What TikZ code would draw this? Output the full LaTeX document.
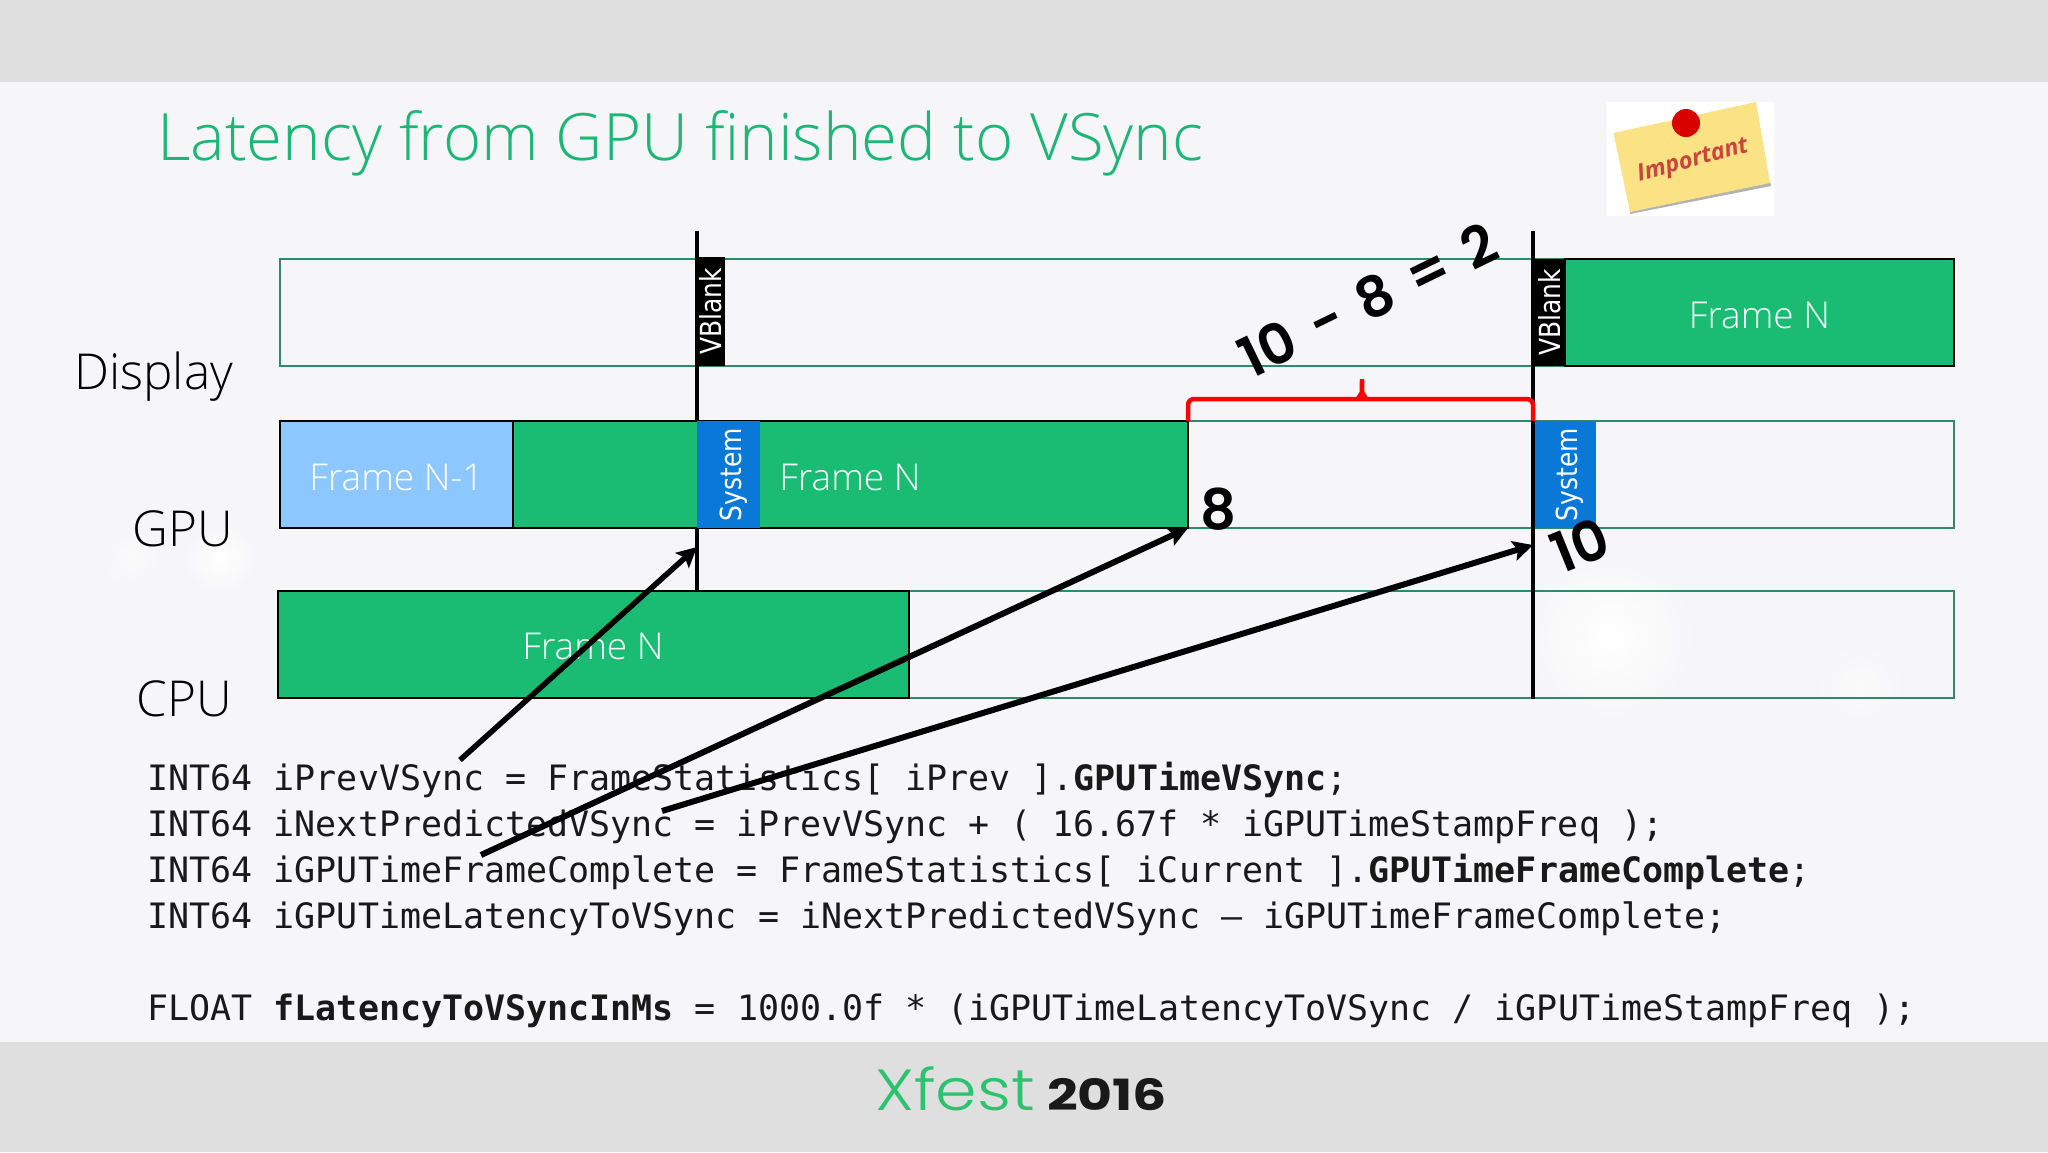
\documentclass[tikz,border=0pt]{standalone}
\usepackage{fontspec}
\usetikzlibrary{arrows.meta,shapes.geometric}
\setmainfont{Open Sans}
\newfontfamily\lightf{Open Sans Light}
\setmonofont{DejaVu Sans Mono}
\newfontfamily\handf{Poppins SemiBold}
\newfontfamily\vbf[FakeStretch=0.86]{DejaVu Sans}
\newfontfamily\logoa[FakeStretch=1.15]{Poppins Light}
\newfontfamily\logob[FakeStretch=1.25]{Poppins}
\definecolor{bar}{HTML}{DFDFE0}
\definecolor{page}{HTML}{F6F6F8}
\definecolor{fill}{HTML}{19BC72}
\definecolor{edge}{HTML}{2E8B6A}
\definecolor{lblue}{HTML}{8CC8FF}
\definecolor{sysblue}{HTML}{0A78D7}
\definecolor{titlec}{HTML}{1DB676}
\definecolor{note}{HTML}{FBE284}
\definecolor{imp}{HTML}{C9453E}
\definecolor{logog}{HTML}{2CC36F}
\definecolor{brk}{HTML}{FF0000}
\tikzset{
  every node/.style={inner sep=0pt,outer sep=0pt},
  lane/.style={draw=edge,line width=2.5pt,anchor=north west},
  filled/.style={draw=black,line width=2.5pt,fill=fill,anchor=north west},
  lbl/.style={font=\lightf\fontsize{49.5}{58}\selectfont,text=black,anchor=base east},
  frametext/.style={font=\lightf\fontsize{37}{44}\selectfont,text=white},
  vtext/.style={font=\vbf\fontsize{29}{34}\selectfont,text=white,rotate=90},
  codeline/.style={font=\ttfamily\fontsize{34.97}{42}\selectfont,text=black!90,anchor=base west},
  hand/.style={font=\handf\fontsize{56}{62}\selectfont,text=black},
  vline/.style={draw=black,line width=4pt},
  arr/.style={draw=black,line width=6pt,-{Stealth[length=20pt,width=20pt,inset=4pt]}},
  spot/.style={inner color=white,outer color=page},
  softspot/.style={inner color=white!50!page,outer color=page},
}
\begin{document}
\begin{tikzpicture}[x=1pt,y=-1pt]
\useasboundingbox (0,0) rectangle (2048,1152);
% page
\fill[page] (0,0) rectangle (2048,1152);
\shade[spot] (1610,637) circle (85);
\shade[softspot] (1860,687) circle (45);
\shade[spot] (220,558) circle (36);
\shade[softspot] (130,558) circle (30);
\fill[bar] (0,0) rectangle (2048,82);
\fill[bar] (0,1042) rectangle (2048,1152);
% title
\node[anchor=base west,font=\lightf\fontsize{65.3}{78}\selectfont,text=titlec] (title) at (157,160) {Latency from GPU finished to VSync};
% note
\fill[white] (1607,102) rectangle (1774,216);
\fill[black!30] (1630,214) -- (1771,186) -- (1770,181) -- (1630,210) -- cycle;
\fill[note] (1613.5,133) -- (1756,102) -- (1770,183) -- (1630,212) -- cycle;
\fill[red!85!black] (1686,123) circle (14);
\node[font=\bfseries\itshape\fontsize{23.5}{28}\selectfont,text=imp,rotate=15] (important) at (1693,161) {Important};
% lanes
\node[lane,minimum width=1674pt,minimum height=107pt] (displaylane) at (280,259) {};
\node[lane,minimum width=1674pt,minimum height=107pt] (gpulane) at (280,421) {};
\node[lane,minimum width=1676pt,minimum height=107pt] (cpulane) at (278,591) {};
% lines behind blocks
\coordinate (vtopa) at (697,231);
\coordinate (vtopb) at (1533,231);
\coordinate (vbotb) at (1533,699);
\node[filled,minimum width=389pt,minimum height=107pt] (dispframe) at (1565,259) {};
\node[filled,fill=lblue,minimum width=233pt,minimum height=107pt] (gpuprev) at (280,421) {};
\node[filled,minimum width=675pt,minimum height=107pt] (gpuframe) at (513,421) {};
\node[filled,minimum width=631pt,minimum height=107pt] (cpuframe) at (278,591) {};
\node[anchor=north west,fill=black,minimum width=30pt,minimum height=109pt] (vblanka) at (695,257) {};
\node[anchor=north west,fill=black,minimum width=32pt,minimum height=107pt] (vblankb) at (1533,259) {};
\node[anchor=north west,fill=sysblue,minimum width=63pt,minimum height=107pt] (sysa) at (697,421) {};
\node[anchor=north west,fill=sysblue,minimum width=63pt,minimum height=107pt] (sysb) at (1533,421) {};
% vsync lines
\draw[vline] (vtopa) -- (vblanka.north west -| vtopa);
\draw[vline] (vblanka.south west -| vtopa) -- (sysa.north west);
\draw[vline] (sysa.south west) -- (cpuframe.north west -| sysa.south west);
\draw[vline] (vtopb) -- (vbotb);
% text in blocks
\node[xshift=1pt,vtext] at (vblanka.center) {VBlank};
\node[xshift=1pt,vtext] at (vblankb.center) {VBlank};
\node[xshift=5pt,vtext] at (sysa.center) {System};
\node[xshift=5pt,vtext] at (sysb.center) {System};
\node[frametext,yshift=-2.5pt] at (dispframe.center) {Frame N};
\node[frametext,yshift=-2.5pt] at (gpuprev.center) {Frame N-1};
\node[frametext] at (850,477) {Frame N};
\node[frametext] at (593,646) {Frame N};
% row labels
\node[lbl] (ldisplay) at (233,389) {Display};
\node[lbl] (lgpu) at (233,546) {GPU};
\node[lbl] (lcpu) at (232,716) {CPU};
% bracket
\coordinate (brtip) at (1362,379);
\draw[brk,line width=4.5pt,rounded corners=6pt] (gpuframe.north east) -- ++(0,-22) -- (1533,399) -- (sysb.north west);
\fill[brk] (brtip) ++(-2.2,0) -- ++(4.4,0) -- (1362+2.5,392) -- (1362+7,399) -- (1362-7,399) -- (1362-2.5,392) -- cycle;
% hand labels
\node[hand,rotate=26] (diff) at (1368,300) {10\hspace{.12em} - \hspace{.12em}8\hspace{.12em} = \hspace{.12em}2};
\node[hand] (eight) at (1218,509) {8};
\node[hand,rotate=22] (ten) at (1580,545) {10};
% code
\node[codeline] (c1) at (147.5,790) {INT64 iPrevVSync = FrameStatistics[ iPrev ].\textbf{GPUTimeVSync};};
\node[codeline] (c2) at (147.5,836) {INT64 iNextPredictedVSync = iPrevVSync + ( 16.67f * iGPUTimeStampFreq );};
\node[codeline] (c3) at (147.5,882) {INT64 iGPUTimeFrameComplete = FrameStatistics[ iCurrent ].\textbf{GPUTimeFrameComplete};};
\node[codeline] (c4) at (147.5,928) {INT64 iGPUTimeLatencyToVSync = iNextPredictedVSync – iGPUTimeFrameComplete;};
\node[codeline] (c5) at (147.5,1020) {FLOAT \textbf{fLatencyToVSyncInMs} = 1000.0f * (iGPUTimeLatencyToVSync / iGPUTimeStampFreq );};
% arrows
\coordinate (a1s) at (460,760);
\coordinate (a1e) at (697,547);
\coordinate (a2s) at (481,855);
\coordinate (a3s) at (662,811);
\coordinate (a3e) at (1533,545);
\draw[arr,line width=5.5pt] (a1s) -- (a1e);
\draw[arr] (a2s) -- (gpuframe.south east);
\draw[arr] (a3s) -- (a3e);
% logo
\node[anchor=base west,font=\logoa\fontsize{58}{60}\selectfont,text=logog] (xfest) at (875,1110) {Xfest};
\node[anchor=base west,font=\logob\bfseries\fontsize{43}{50}\selectfont,text=black!90] (year) at (1047,1110) {2016};
\end{tikzpicture}
\end{document}
